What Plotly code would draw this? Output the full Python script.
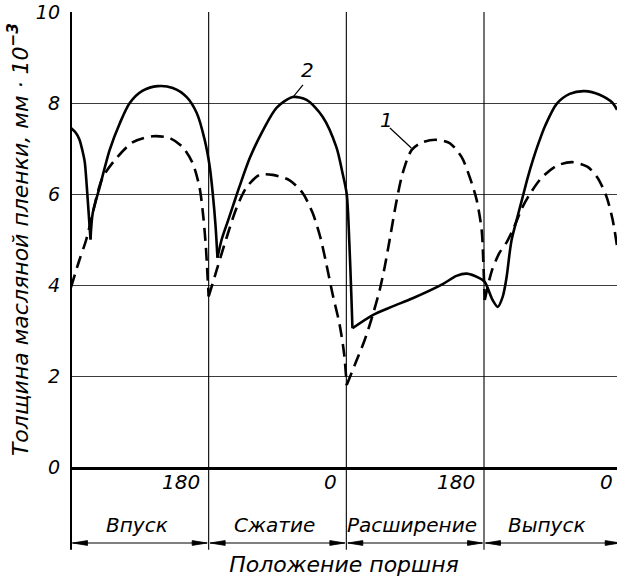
import plotly.graph_objects as go

# Visible part of the 720-degree cycle (the last stroke is cut at the right edge)
X_MAX = 713.9

# Stroke boundaries, crank angle in degrees
crank_edges = [0, 180, 360, 540, 720]
edge_labels = ["180", "0", "180", "0"]
stroke_names = ["Впуск", "Сжатие", "Расширение", "Выпуск"]
y_ticks = [0, 2, 4, 6, 8, 10]

# Curve 1 (dashed): lobes between cusps, separated by None
film1_deg = [0, 11, 20, 28, 41, 60, 81, 107, 129, 146, 159, 168, 173, 176.5, 178.5, 180, None,
             180, 190.5, 203.6, 216.6, 229.7, 246.7, 263.7, 285.9, 302.9, 316, 326, 334, 342, 351, 357, 360.5, None,
             360.5, 373.6, 384, 394.5, 403.6, 410.2, 416.7, 425.9, 433.7, 445.5, 459.9, 478.2, 495.1, 510.8,
             521.3, 530.4, 537, 539, 541, None,
             541, 550, 560, 570, 580, 590, 600, 615, 635, 655, 675, 688, 700, 708, 714]
film1_val = [3.95, 4.55, 5.0, 5.55, 6.35, 6.8, 7.14, 7.27, 7.23, 7.03, 6.68, 6.15, 5.5, 4.8, 4.2, 3.75, None,
             3.75, 4.33, 5.05, 5.7, 6.15, 6.42, 6.42, 6.3, 6.02, 5.58, 5.05, 4.45, 3.8, 3.15, 2.5, 1.8, None,
             1.8, 2.35, 2.79, 3.34, 3.89, 4.4, 5.0, 5.87, 6.46, 6.97, 7.14, 7.19, 7.12, 6.81,
             6.37, 5.87, 5.2, 4.55, 3.67, None,
             3.67, 4.3, 4.7, 4.95, 5.3, 5.7, 6.0, 6.35, 6.62, 6.7, 6.6, 6.37, 5.95, 5.45, 4.85]

# Curve 2 (solid): lobes between cusps, separated by None
film2_deg = [0, 6, 11, 15, 18, 20.5, 23, 25.5, None,
             25.5, 28.4, 37.5, 50.6, 63.7, 76.8, 93.8, 113.4, 133, 151.3, 164.4, 174.8, 181.4, 185.3, 189, 191.5, None,
             191.5, 197, 205, 212, 220, 234, 251, 269, 290, 308, 329, 347, 355, 360.5, 364, 366.5, 368, None,
             368, 394.5, 420.5, 446.8, 486, 504, 517.4, 534, 540.9, 551.3, 558, 564.4, 569.6, 573.5, 576.2,
             583, 590, 597, 604, 612, 620, 635, 652, 671.6, 691.2, 708.2, 714]
film2_val = [7.45, 7.35, 7.2, 6.95, 6.7, 6.2, 5.6, 5.0, None,
             5.0, 5.58, 6.15, 6.97, 7.55, 8.0, 8.27, 8.37, 8.33, 8.13, 7.78, 7.19, 6.6, 6.02, 5.3, 4.6, None,
             4.6, 5.0, 5.4, 5.75, 6.15, 6.8, 7.4, 7.9, 8.13, 8.07, 7.7, 7.03, 6.46, 6.0, 4.9, 3.8, 3.05, None,
             3.05, 3.34, 3.53, 3.71, 4.02, 4.2, 4.25, 4.15, 4.07, 3.67, 3.52, 3.74, 4.18, 4.7, 5.0,
             5.45, 5.9, 6.35, 6.75, 7.15, 7.5, 7.98, 8.2, 8.26, 8.18, 8.0, 7.85]

FONT = "DejaVu Sans"
ITALIC = dict(family=FONT, style="italic", color="black")

# Plot area size in pixels (figure size minus margins)
PLOT_W, PLOT_H = 546, 455

fig = go.Figure()
fig.add_trace(go.Scatter(
    x=film1_deg, y=film1_val, mode="lines", connectgaps=False,
    line=dict(color="black", width=2.6, dash="13px,7px", shape="spline", smoothing=0.8),
    showlegend=False, hoverinfo="skip"))
fig.add_trace(go.Scatter(
    x=film2_deg, y=film2_val, mode="lines", connectgaps=False,
    line=dict(color="black", width=2.6, shape="spline", smoothing=0.8),
    showlegend=False, hoverinfo="skip"))

# Below-axis extent, in paper units
Y_BOTTOM = -0.182
Y_DIM = -0.167


def xp(deg):
    return deg / X_MAX


# Stroke boundary lines (and the left axis line)
for e in crank_edges:
    fig.add_shape(type="line", xref="paper", yref="paper", x0=xp(e), x1=xp(e),
                  y0=Y_BOTTOM, y1=1, line=dict(color="black", width=2 if e == 0 else 1.1),
                  layer="above")

# Dimension lines with arrowheads at both ends of every stroke
HEAD_L = 15 / PLOT_W
HEAD_H = 2.4 / PLOT_H
GAP = 1.5 / PLOT_W
for a, b in zip(crank_edges[:-1], crank_edges[1:]):
    xa, xb = xp(a) + GAP, xp(b) - GAP
    fig.add_shape(type="line", xref="paper", yref="paper", x0=xa, x1=xb,
                  y0=Y_DIM, y1=Y_DIM, line=dict(color="black", width=1.2))
    for tip, d in ((xa, 1), (xb, -1)):
        fig.add_shape(type="path", xref="paper", yref="paper",
                      path=(f"M {tip},{Y_DIM} L {tip + d * HEAD_L},{Y_DIM + HEAD_H} "
                            f"L {tip + d * HEAD_L},{Y_DIM - HEAD_H} Z"),
                      fillcolor="black", line=dict(color="black", width=0.8))

annotations = []
# Crank-angle marks at the stroke ends
for e, lab in zip(crank_edges[1:], edge_labels):
    annotations.append(dict(
        x=xp(e), y=-0.033, xref="paper", yref="paper", text=lab,
        showarrow=False, xanchor="right", yanchor="middle", xshift=-7,
        font=dict(ITALIC, size=20)))

# Stroke names, centred on the visible part of each stroke
for i, name in enumerate(stroke_names):
    a, b = crank_edges[i], min(crank_edges[i + 1], X_MAX)
    annotations.append(dict(
        x=xp((a + b) / 2), y=-0.127, xref="paper", yref="paper", text=name,
        showarrow=False, xanchor="center", yanchor="middle", xshift=-3,
        font=dict(ITALIC, size=20)))

# Curve numbers with leader lines
annotations.append(dict(x=412.8, y=7.63, xref="x", yref="y", text="1", showarrow=False,
                        font=dict(ITALIC, size=20)))
annotations.append(dict(x=309.5, y=8.73, xref="x", yref="y", text="2", showarrow=False,
                        font=dict(ITALIC, size=20)))
fig.add_shape(type="line", xref="x", yref="y", x0=417, y0=7.45, x1=445, y1=7.01,
              line=dict(color="black", width=1.2))
fig.add_shape(type="line", xref="x", yref="y", x0=303.3, y0=8.4, x1=290.2, y1=8.13,
              line=dict(color="black", width=1.2))

fig.update_layout(
    width=617, height=579,
    margin=dict(l=71, r=0, t=12, b=112),
    paper_bgcolor="white", plot_bgcolor="white",
    font=dict(family=FONT, color="black"),
    annotations=annotations,
    xaxis=dict(range=[0, X_MAX], showgrid=False, zeroline=False, showticklabels=False,
               ticks="", showline=True, linecolor="black", linewidth=2.6,
               title=dict(text="Положение поршня", standoff=88,
                          font=dict(ITALIC, size=22))),
    yaxis=dict(range=[0, 10], tickvals=y_ticks, ticktext=[str(v) for v in y_ticks],
               showgrid=True, gridcolor="#3c3c3c", gridwidth=1, zeroline=False,
               showline=False, ticks="", ticklabelstandoff=10,
               tickfont=dict(ITALIC, size=19),
               title=dict(text="Толщина масляной пленки, мм · 10<sup><b>−3</b></sup>",
                          standoff=1, font=dict(ITALIC, size=22))),
)

fig.write_html("out.html")
